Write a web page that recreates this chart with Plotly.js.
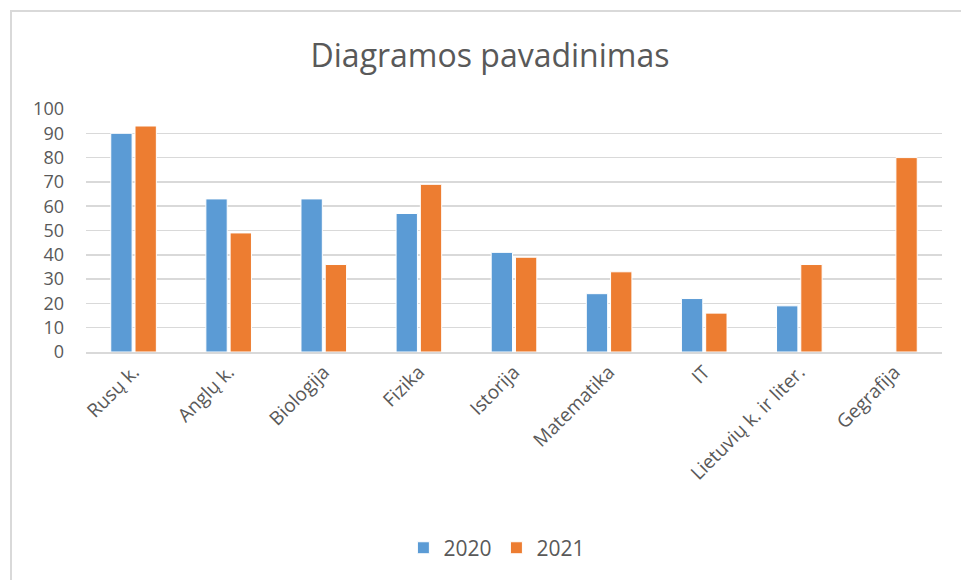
<!DOCTYPE html>
<html>
<head>
<meta charset="utf-8">
<script src="https://cdn.plot.ly/plotly-3.0.1.min.js"></script>
<style>
  html, body { margin: 0; padding: 0; background: #fff; }
  #wrap { position: relative; width: 961px; height: 580px; overflow: hidden; }
  #frame { position: absolute; left: 10px; top: 10px; width: 1000px; height: 640px;
           border-left: 2px solid #d9d9d9; border-top: 2px solid #d9d9d9; box-sizing: border-box; pointer-events: none; }
  #chart { position: absolute; left: 0; top: 0; width: 961px; height: 580px; }
</style>
</head>
<body>
<div id="wrap">
  <div id="chart"></div>
  <div id="frame"></div>
</div>
<script>
const categories = ["Rusų k.", "Anglų k.", "Biologija", "Fizika", "Istorija", "Matematika", "IT", "Lietuvių k. ir liter.", "Gegrafija"];
const values2020 = [90, 63, 63, 57, 41, 24, 22, 19, 0];
const values2021 = [93, 49, 36, 69, 39, 33, 16, 36, 80];
const seriesNames = ["2020", "2021"];
const yTicks = [0, 10, 20, 30, 40, 50, 60, 70, 80, 90, 100];

const font = "Open Sans, Noto Sans, sans-serif";
const textColor = "#595959";

const traces = [
  {
    type: "bar", name: seriesNames[0], x: categories, y: values2020,
    marker: { color: "#5b9bd5", line: { color: "#ffffff", width: 1 } }
  },
  {
    type: "bar", name: seriesNames[1], x: categories, y: values2021,
    marker: { color: "#ed7d31", line: { color: "#ffffff", width: 1 } }
  }
];

const layout = {
  width: 961, height: 580,
  paper_bgcolor: "rgba(0,0,0,0)", plot_bgcolor: "rgba(0,0,0,0)",
  margin: { l: 86, r: 19, t: 109, b: 228 },
  font: { family: font, color: textColor, size: 20 },
  title: {
    text: "Diagramos pavadinimas",
    font: { family: font, size: 32, color: textColor },
    x: 490 / 961, xanchor: "center", xref: "container",
    y: 1 - 56 / 580, yref: "container", yanchor: "middle"
  },
  barmode: "group",
  bargap: 0.49,
  bargroupgap: 0.12,
  showlegend: true,
  legend: {
    orientation: "h", x: 0.48, xanchor: "center", y: -0.807, yanchor: "middle",
    font: { family: font, size: 21, color: textColor }
  },
  xaxis: {
    type: "category",
    tickangle: -45,
    showgrid: false,
    showline: true, linecolor: "#d9d9d9", linewidth: 1.5,
    ticks: "",
    tickfont: { family: font, size: 19, color: textColor },
    fixedrange: true
  },
  yaxis: {
    range: [0, 100],
    tickvals: yTicks,
    showgrid: true, gridcolor: "#d9d9d9", gridwidth: 1.5,
    zeroline: false, showline: false,
    ticks: "",
    ticklabelstandoff: 21,
    tickfont: { family: font, size: 18, color: textColor },
    fixedrange: true
  }
};

Plotly.newPlot("chart", traces, layout, { displayModeBar: false, staticPlot: true });
</script>
</body>
</html>
